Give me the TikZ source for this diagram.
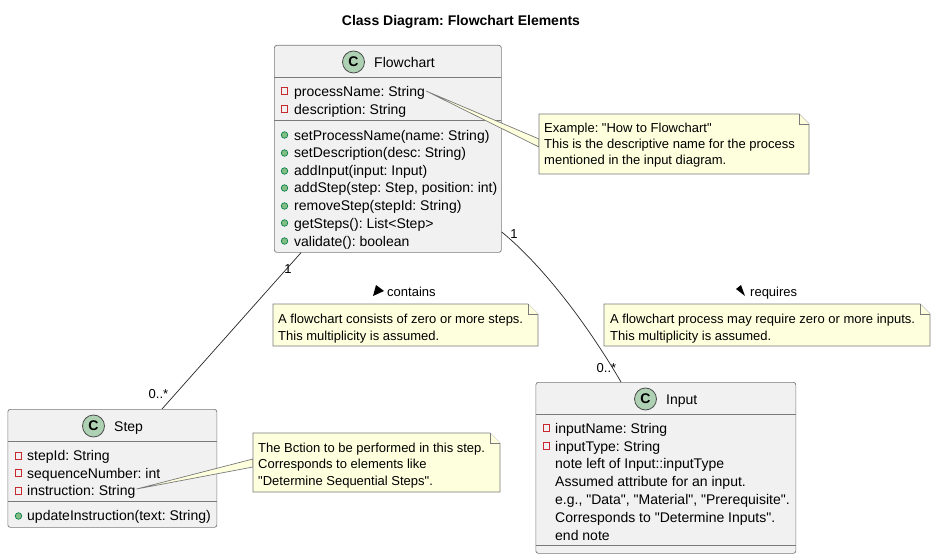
\documentclass[tikz,border=0pt]{standalone}
\usepackage{fontspec}
\setmainfont{Liberation Sans}[Ligatures=TeXOff]
\usetikzlibrary{calc}
\definecolor{boxfill}{HTML}{F1F1F1}
\definecolor{boxline}{HTML}{7A7A7A}
\definecolor{notefill}{HTML}{FEFFDD}
\definecolor{circfill}{HTML}{ADD1B2}
\definecolor{privred}{HTML}{C82930}
\definecolor{pubfill}{HTML}{84BE84}
\definecolor{publine}{HTML}{038048}
\tikzset{
  x=1pt,y=-1pt,
  classbox/.style={draw=boxline,fill=boxfill,line width=0.7pt,rounded corners=2.5pt,inner sep=0pt,anchor=north west},
  divider/.style={draw=boxline,line width=0.7pt},
  member/.style={anchor=base west,inner sep=0pt,font=\fontsize{14}{15}\selectfont,text=black},
  caption/.style={anchor=base,inner sep=0pt,font=\fontsize{14}{15}\selectfont},
  spot/.style={circle,draw=black!70,fill=circfill,line width=0.8pt,minimum size=22pt,inner sep=0pt,font=\fontsize{14}{15}\selectfont\bfseries},
  privmark/.style={rectangle,draw=privred,line width=0.7pt,minimum size=6.5pt,inner sep=0pt},
  pubmark/.style={circle,draw=publine,fill=pubfill,line width=0.7pt,minimum size=6.5pt,inner sep=0pt},
  assoc/.style={draw=black!85,line width=0.7pt},
  noteline/.style={draw=boxline,fill=notefill,line width=0.7pt},
  notetext/.style={anchor=base west,inner sep=0pt,font=\fontsize{13}{15}\selectfont},
  mult/.style={anchor=base,inner sep=0pt,font=\fontsize{13}{15}\selectfont},
  linklabel/.style={anchor=base west,inner sep=0pt,font=\fontsize{13}{15}\selectfont},
}
\newcommand{\notebody}[5]{% x1 y1 x2 y2 name
  \draw[noteline] (#1,#2) -- (#3-10,#2) -- (#3,#2+10) -- (#3,#4) -- (#1,#4) -- cycle;
  \draw[noteline] (#3-10,#2) -- (#3-10,#2+10) -- (#3,#2+10);
  \coordinate (#5) at (#1,#2);
}
\frenchspacing
\begin{document}
\begin{tikzpicture}
\useasboundingbox (0,0) rectangle (935,559);
\fill[white] (0,0) rectangle (935,559);
\node[anchor=base,inner sep=0pt,font=\fontsize{14}{15}\selectfont\bfseries] (title) at (461,25.5) {Class Diagram: Flowchart Elements};

% ---------- classes
\node[classbox,minimum width=227pt,minimum height=207pt] (flow) at (274,45) {};
\node[classbox,minimum width=209pt,minimum height=118pt] (step) at (7.5,409) {};
\node[classbox,minimum width=260pt,minimum height=171pt] (input) at (535.5,382) {};

\draw[divider] (274,77) -- (501,77) (274,120) -- (501,120);
\draw[divider] (7.5,441) -- (216.5,441) (7.5,501) -- (216.5,501);
\draw[divider] (535.5,414) -- (795.5,414) (535.5,545) -- (795.5,545);

\node[spot] (cflow) at (353.5,62) {C};
\node[caption,anchor=base west] (nflow) at (374,68) {Flowchart};
\node[spot] (cstep) at (93.5,426) {C};
\node[caption,anchor=base west] (nstep) at (114,431) {Step};
\node[spot] (cinput) at (645.5,399) {C};
\node[caption,anchor=base west] (ninput) at (666,404) {Input};

% ---------- Flowchart members
\node[privmark] (fa) at (284.5,91) {};
\node[member] (fat) at (294,96.5) {processName: String};
\node[privmark] (fb) at (284.5,109) {};
\node[member] (fbt) at (294,114.5) {description: String};
\node[pubmark] (f1) at (284.5,135) {};
\node[member] (f1t) at (294,140.5) {setProcessName(name: String)};
\node[pubmark] (f2) at (284.5,153) {};
\node[member] (f2t) at (294,158) {setDescription(desc: String)};
\node[pubmark] (f3) at (284.5,171) {};
\node[member] (f3t) at (294,176) {addInput(input: Input)};
\node[pubmark] (f4) at (284.5,188) {};
\node[member] (f4t) at (294,193) {addStep(step: Step, position: int)};
\node[pubmark] (f5) at (284.5,206) {};
\node[member] (f5t) at (294,211) {removeStep(stepId: String)};
\node[pubmark] (f6) at (284.5,223) {};
\node[member] (f6t) at (294,228) {getSteps(): List<Step>};
\node[pubmark] (f7) at (284.5,241) {};
\node[member] (f7t) at (294,246) {validate(): boolean};

% ---------- Step members
\node[privmark] (sa) at (18.5,456) {};
\node[member] (sat) at (27,460.5) {stepId: String};
\node[privmark] (sb) at (18.5,473) {};
\node[member] (sbt) at (27,478) {sequenceNumber: int};
\node[privmark] (sc) at (18.5,491) {};
\node[member] (sct) at (27,495.5) {instruction: String};
\node[pubmark] (s1) at (18.5,516) {};
\node[member] (s1t) at (27,520.5) {updateInstruction(text: String)};

% ---------- Input members
\node[privmark] (ia) at (546.5,428) {};
\node[member] (iat) at (555,433) {inputName: String};
\node[privmark] (ib) at (546.5,446) {};
\node[member] (ibt) at (555,451) {inputType: String};
\node[member] (i3) at (555,468) {note left of Input::inputType};
\node[member] (i4) at (555,486) {Assumed attribute for an input.};
\node[member] (i5) at (555,504) {e.g., "Data", "Material", "Prerequisite".};
\node[member] (i6) at (555,522) {Corresponds to "Determine Inputs".};
\node[member] (i7) at (555,540) {end note};

% ---------- associations
\draw[assoc] ($(flow.south west)+(27,0)$) -- ($(step.north west)+(154.5,0)$);
\draw[assoc] ($(flow.north east)+(0,187)$) .. controls (541,264) and (586,322) .. ($(input.north west)+(85.5,0)$);
\node[mult] (m1) at (288,273) {1};
\node[mult] (m2) at (158.5,398) {0..*};
\node[mult] (m3) at (514,238) {1};
\node[mult] (m4) at (606.5,372) {0..*};

\node[linklabel] (lcontains) at (387,296) {contains};
\fill[black] (373,296) -- (384,291) -- (376,285) -- cycle;
\node[linklabel] (lrequires) at (750,296) {requires};
\fill[black] (745,296) -- (736,289) -- (741,285) -- cycle;

% ---------- note tails
\draw[noteline] (fat.base east) ++(1,-5.5) coordinate (t1) -- (539,139) -- (539,147) -- cycle;
\draw[noteline] (sct.base east) ++(1,-6.5) coordinate (t2) -- (253,459) -- (253,467) -- cycle;

% ---------- notes
\notebody{539}{114}{809}{174}{n1}
\node[notetext] (n1a) at (544,133) {Example: "How to Flowchart"};
\node[notetext] (n1b) at (544,149) {This is the descriptive name for the process};
\node[notetext] (n1c) at (544,165) {mentioned in the input diagram.};

\notebody{273}{304}{538}{346}{n2}
\node[notetext] (n2a) at (278,323) {A flowchart consists of zero or more steps.};
\node[notetext] (n2b) at (278,340) {This multiplicity is assumed.};

\notebody{604}{304}{930}{346}{n3}
\node[notetext] (n3a) at (610,323) {A flowchart process may require zero or more inputs.};
\node[notetext] (n3b) at (610,340) {This multiplicity is assumed.};

\notebody{253}{433}{500}{492}{n4}
\node[notetext] (n4a) at (258,452) {The Bction to be performed in this step.};
\node[notetext] (n4b) at (258,468) {Corresponds to elements like};
\node[notetext] (n4c) at (258,485) {"Determine Sequential Steps".};
\end{tikzpicture}
\end{document}
